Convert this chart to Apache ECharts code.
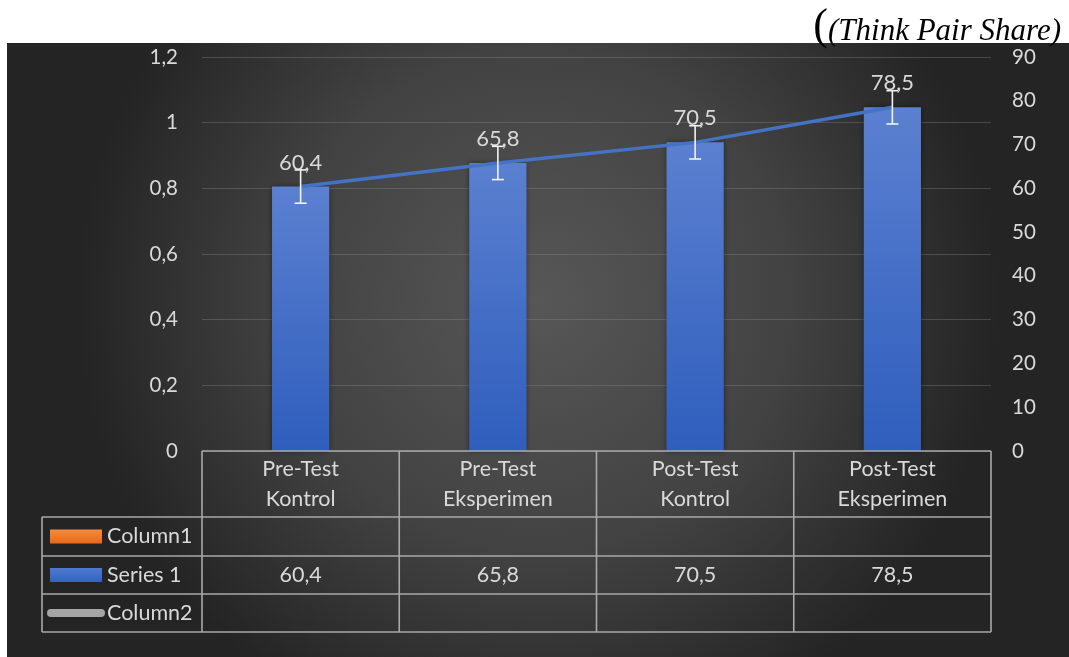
<!DOCTYPE html>
<html>
<head>
<meta charset="utf-8">
<script src="https://cdn.jsdelivr.net/npm/echarts@6/dist/echarts.min.js"></script>
<style>html,body{margin:0;padding:0;background:#fff;}#c{width:1069px;height:657px;}</style>
</head>
<body>
<div id="c"></div>
<script>
var categories = ['Pre-Test\nKontrol', 'Pre-Test\nEksperimen', 'Post-Test\nKontrol', 'Post-Test\nEksperimen'];
var series1 = [60.4, 65.8, 70.5, 78.5];
var errorAmount = [3.8, 3.8, 3.8, 3.8];
var legendNames = ['Column1', 'Series 1', 'Column2'];
var leftTicks = {min: 0, max: 1.2, interval: 0.2};
var rightTicks = {min: 0, max: 90, interval: 10};
var titleText = '(Think Pair Share)';

var FONT = 'Lato, "Noto Sans", sans-serif';
var TXT = '#d9d9d9';
var fmt = function (v) { return String(Math.round(v * 10) / 10).replace('.', ','); };

var chart = echarts.init(document.getElementById('c'));

var G = {left: 202, right: 991, top: 57, bottom: 451};
var rowY = [451, 517, 556, 594, 632];
var legendLeft = 42;

var option = {
  backgroundColor: '#ffffff',
  animation: false,
  title: {
    text: '{p|(}{t|' + titleText + '}',
    right: 3, top: 0,
    textStyle: {
      fontWeight: 'normal',
      rich: {
        p: {fontFamily: '"Liberation Serif", serif', fontWeight: 'normal', fontSize: 44, color: '#000', verticalAlign: 'bottom', lineHeight: 44},
        t: {fontFamily: '"Liberation Serif", serif', fontWeight: 'normal', fontStyle: 'italic', fontSize: 31, color: '#000', verticalAlign: 'bottom', lineHeight: 44, padding: [0, 0, 2, 0]}
      }
    }
  },
  grid: {left: G.left, right: 1069 - G.right, top: G.top, bottom: 657 - G.bottom, containLabel: false},
  xAxis: {
    type: 'category',
    data: categories,
    axisLine: {show: false},
    axisTick: {show: false},
    axisLabel: {interval: 0, color: TXT, fontFamily: FONT, fontSize: 21.5, lineHeight: 30, margin: 3}
  },
  yAxis: [
    {
      type: 'value', min: leftTicks.min, max: leftTicks.max, interval: leftTicks.interval,
      axisLine: {show: false}, axisTick: {show: false},
      axisLabel: {color: TXT, fontFamily: FONT, fontSize: 20.5, margin: 24, formatter: fmt},
      splitLine: {lineStyle: {color: 'rgba(140,140,140,0.35)', width: 1}}
    },
    {
      type: 'value', min: rightTicks.min, max: rightTicks.max, interval: rightTicks.interval,
      position: 'right',
      axisLine: {show: false}, axisTick: {show: false},
      axisLabel: {color: TXT, fontFamily: FONT, fontSize: 20.5, margin: 21, formatter: fmt},
      splitLine: {show: false}
    }
  ],
  series: [
    {
      name: legendNames[1], type: 'bar', yAxisIndex: 1, data: series1,
      barWidth: '29%',
      itemStyle: {
        color: new echarts.graphic.LinearGradient(0, 0, 0, 1, [
          {offset: 0, color: '#5b80d0'}, {offset: 1, color: '#2f5ebd'}
        ]),
        shadowColor: 'rgba(0,0,0,0.45)', shadowBlur: 6, shadowOffsetX: 0, shadowOffsetY: 0
      },
      label: {show: true, position: 'top', distance: 13, color: TXT, fontFamily: FONT, fontSize: 22, formatter: function (p) { return fmt(p.value); }},
      z: 2
    },
    {
      name: 'line', type: 'line', yAxisIndex: 1, data: series1,
      symbol: 'none',
      lineStyle: {color: '#4472c4', width: 3.5},
      z: 4
    },
    {
      name: 'err', type: 'custom', yAxisIndex: 1,
      data: series1.map(function (v, i) { return [i, v - errorAmount[i], v + errorAmount[i]]; }),
      renderItem: function (params, api) {
        var lo = api.coord([api.value(0), api.value(1)]);
        var hi = api.coord([api.value(0), api.value(2)]);
        var hw = 6;
        var st = {stroke: '#f2f2f2', lineWidth: 1.6};
        return {type: 'group', children: [
          {type: 'line', shape: {x1: lo[0], y1: lo[1], x2: hi[0], y2: hi[1]}, style: st},
          {type: 'line', shape: {x1: lo[0] - hw, y1: lo[1], x2: lo[0] + hw, y2: lo[1]}, style: st},
          {type: 'line', shape: {x1: hi[0] - hw, y1: hi[1], x2: hi[0] + hw, y2: hi[1]}, style: st}
        ]};
      },
      z: 5
    }
  ]
};
chart.setOption(option);

var els = [];
els.push({
  type: 'rect', z: -10, silent: true,
  shape: {x: 7, y: 43, width: 1062, height: 614},
  style: {fill: new echarts.graphic.RadialGradient(0.5, 0.42, 0.75, [
    {offset: 0, color: '#575757'}, {offset: 0.55, color: '#424242'}, {offset: 1, color: '#242424'}
  ])}
});
var LC = '#a9a9a9', LW = 1.6;
function hline(x1, x2, y) { els.push({type: 'line', z: 10, silent: true, shape: {x1: x1, y1: y, x2: x2, y2: y}, style: {stroke: LC, lineWidth: LW}}); }
function vline(x, y1, y2) { els.push({type: 'line', z: 10, silent: true, shape: {x1: x, y1: y1, x2: x, y2: y2}, style: {stroke: LC, lineWidth: LW}}); }
hline(G.left, G.right, rowY[0]);
for (var r = 1; r < rowY.length; r++) hline(legendLeft, G.right, rowY[r]);
var step = (G.right - G.left) / categories.length;
for (var k = 0; k <= categories.length; k++) vline(G.left + k * step, rowY[0], rowY[4]);
vline(legendLeft, rowY[1], rowY[4]);

var legendColors = [
  new echarts.graphic.LinearGradient(0, 0, 0, 1, [{offset: 0, color: '#f58a3c'}, {offset: 1, color: '#e8681c'}]),
  new echarts.graphic.LinearGradient(0, 0, 0, 1, [{offset: 0, color: '#4f79d2'}, {offset: 1, color: '#3563c2'}]),
  '#a6a6a6'
];
legendNames.forEach(function (n, i) {
  var cy = (rowY[i + 1] + rowY[i + 2]) / 2;
  if (i < 2) {
    els.push({type: 'rect', z: 11, shape: {x: 50, y: cy - 7, width: 52, height: 14}, style: {fill: legendColors[i]}});
  } else {
    els.push({type: 'line', z: 11, shape: {x1: 51, y1: cy, x2: 101, y2: cy}, style: {stroke: legendColors[i], lineWidth: 8, lineCap: 'round'}});
  }
  els.push({type: 'text', z: 11, x: 107, y: cy, style: {text: n, fill: TXT, font: '21.5px ' + FONT, textAlign: 'left', textVerticalAlign: 'middle'}});
});
series1.forEach(function (v, i) {
  var px = chart.convertToPixel({xAxisIndex: 0}, i);
  var cy = (rowY[2] + rowY[3]) / 2;
  els.push({type: 'text', z: 11, x: px, y: cy, style: {text: fmt(v), fill: TXT, font: '21.5px ' + FONT, textAlign: 'center', textVerticalAlign: 'middle'}});
});
chart.setOption({graphic: {elements: els}});
</script>
</body>
</html>
